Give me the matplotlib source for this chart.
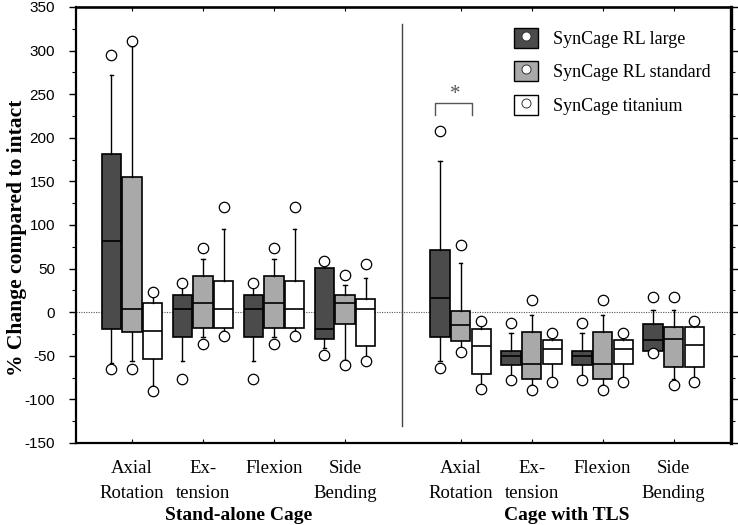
import matplotlib
matplotlib.use("Agg")
import matplotlib.pyplot as plt
import numpy as np
from matplotlib.patches import Patch
from matplotlib.lines import Line2D
from matplotlib.ticker import MultipleLocator

plt.rcParams["axes.unicode_minus"] = False

# ---------------- data ----------------
motions = ["Axial\nRotation", "Ex-\ntension", "Flexion", "Side\nBending"]
groups = ["Stand-alone Cage", "Cage with TLS"]
implants = ["SynCage RL large", "SynCage RL standard", "SynCage titanium"]
colors = ["#4b4b4b", "#a9a9a9", "#ffffff"]

# 8 values each: 4 motions stand-alone, then 4 motions with TLS
large_q3 = [181.7, 19.7, 19.7, 50.5, 70.9, -44.4, -44.4, -13.5]
large_med = [81.8, 4.2, 4.2, -19.7, 15.8, -50.2, -50.2, -31.6]
large_q1 = [-19.7, -28.5, -28.5, -31.3, -28.5, -61.0, -61.0, -44.4]
large_whishi = [271.6, 31.6, 31.6, 55.6, 173.2, -24.3, -24.3, 3.0]
large_whislo = [-58.0, -56.0, -56.0, -41.0, -56.0, -73.0, -73.0, -45.5]
large_out_hi = [295.5, 33.2, 33.2, 58.7, 207.5, -12.4, -12.4, 17.4]
large_out_lo = [-65.2, -76.4, -76.4, -48.6, -64.5, -77.5, -77.5, -46.5]

std_q3 = [155.0, 41.3, 41.3, 20.0, 1.2, -22.4, -22.4, -16.6]
std_med = [3.1, 10.0, 10.0, 10.0, -14.2, -59.0, -59.0, -30.4]
std_q1 = [-22.4, -18.5, -18.5, -13.9, -33.6, -76.4, -76.4, -63.3]
std_whishi = [305.0, 60.5, 60.5, 31.6, 56.6, -3.0, -3.0, 3.0]
std_whislo = [-56.0, -29.0, -29.0, -54.4, -40.6, -84.0, -84.0, -77.0]
std_out_hi = [311.0, 74.0, 74.0, 42.8, 76.9, 13.5, 13.5, 17.4]
std_out_lo = [-65.0, -36.0, -36.0, -61.0, -45.6, -89.2, -89.2, -83.3]

ti_q3 = [10.0, 35.5, 35.5, 15.4, -19.7, -31.6, -31.6, -16.6]
ti_med = [-22.0, 3.1, 3.1, 4.2, -38.9, -42.4, -42.4, -37.4]
ti_q1 = [-53.6, -18.5, -18.5, -39.0, -70.6, -59.8, -59.8, -63.3]
ti_whishi = [18.9, 94.9, 94.9, 39.4, -13.5, -27.5, -27.5, -13.5]
ti_whislo = [-85.0, -21.0, -21.0, -53.0, -83.0, -75.0, -75.0, -75.0]
ti_out_hi = [22.8, 120.4, 120.4, 54.8, -10.4, -24.3, -24.3, -10.4]
ti_out_lo = [-90.3, -27.4, -27.4, -56.3, -87.6, -79.8, -79.8, -79.8]

series = [
    (large_q1, large_med, large_q3, large_whislo, large_whishi, large_out_lo, large_out_hi),
    (std_q1, std_med, std_q3, std_whislo, std_whishi, std_out_lo, std_out_hi),
    (ti_q1, ti_med, ti_q3, ti_whislo, ti_whishi, ti_out_lo, ti_out_hi),
]

# ---------------- layout ----------------
serif = ["Liberation Serif", "DejaVu Serif"]
sans = ["Liberation Sans", "DejaVu Sans"]

fig = plt.figure(figsize=(7.38, 5.25), dpi=100)
ax = fig.add_axes([76 / 738, 1 - 443 / 525, (731 - 76) / 738, (443 - 7) / 525])

group_gap = 4.63
centers = np.concatenate([np.arange(4), np.arange(4) + group_gap])
offsets = [-0.29, 0.0, 0.29]
box_w = 0.27

for k, (q1, med, q3, wlo, whi, olo, ohi) in enumerate(series):
    stats = []
    for i in range(len(centers)):
        stats.append(dict(q1=q1[i], med=med[i], q3=q3[i], whislo=wlo[i], whishi=whi[i],
                          fliers=[olo[i], ohi[i]]))
    ax.bxp(stats, positions=centers + offsets[k], widths=box_w, patch_artist=True,
           showcaps=True, capwidths=0.05, manage_ticks=False,
           boxprops=dict(facecolor=colors[k], edgecolor="black", linewidth=1.2),
           medianprops=dict(color="black", linewidth=1.2),
           whiskerprops=dict(color="black", linewidth=1.0),
           capprops=dict(color="black", linewidth=1.0),
           flierprops=dict(marker="o", markersize=7.5, markerfacecolor="white",
                           markeredgecolor="black", markeredgewidth=0.9),
           zorder=3)

ax.set_xlim(-0.79, 8.44)
ax.set_ylim(-150, 350)

# zero reference line
ax.axhline(0, color="#555555", linewidth=0.8, linestyle=(0, (1, 1.2)), zorder=1)
# separator between groups
ax.plot([3.80, 3.80], [-130, 330], color="#444444", linewidth=1.0, zorder=1)

# significance bracket
bx0 = centers[4] + offsets[0] - 0.07
bx1 = centers[4] + offsets[1] + 0.16
ax.plot([bx0, bx0, bx1, bx1], [226, 240, 240, 226], color="#555555", linewidth=1.0)
ax.text((bx0 + bx1) / 2 + 0.02, 250, "*", ha="center", va="center", fontsize=15,
        family=serif, color="#555555")

# ticks
ax.yaxis.set_major_locator(MultipleLocator(50))
ax.yaxis.set_minor_locator(MultipleLocator(25))
ax.tick_params(axis="y", which="major", direction="out", length=5, width=1.0,
               left=True, right=True, labelleft=True, labelright=False,
               labelsize=11, pad=10)
ax.tick_params(axis="y", which="minor", direction="out", length=3, width=0.8,
               left=True, right=True)
for lab in ax.get_yticklabels():
    lab.set_family(sans)

ax.set_xticks(centers)
ax.set_xticklabels(motions * 2, family=serif, fontsize=13.5, linespacing=1.6)
ax.tick_params(axis="x", direction="in", length=3, width=0.8, top=True, bottom=True,
               pad=12.5)

for side, lw in [("left", 1.6), ("bottom", 1.6), ("top", 1.9), ("right", 2.4)]:
    ax.spines[side].set_linewidth(lw)

# group labels
for g, label in enumerate(groups):
    xc = centers[4 * g:4 * g + 4].mean()
    ax.annotate(label, xy=(xc, 0), xycoords=("data", "axes fraction"),
                xytext=(0, -52.5), textcoords="offset points", ha="center", va="center",
                fontsize=14, fontweight="bold", family=serif, annotation_clip=False)

fig.text(17 / 738, 1 - 238 / 525, "% Change compared to intact", rotation=90,
         ha="center", va="center", fontsize=15.5, fontweight="bold", family=serif)

# legend
handles = [(Patch(facecolor=c, edgecolor="black", linewidth=1.0),
            Line2D([], [], marker="o", linestyle="none", markersize=6.5,
                   markerfacecolor="white", markeredgecolor="#333333", markeredgewidth=0.7))
           for c in colors]
leg = ax.legend(handles, implants, loc="upper left", bbox_to_anchor=(438 / 655, 1 - 21 / 436),
                frameon=False, handlelength=1.33, handleheight=1.33, handletextpad=0.85,
                labelspacing=0.74, borderaxespad=0, borderpad=0,
                prop=dict(family=serif, size=13))

fig.savefig("out.png", dpi=100)
